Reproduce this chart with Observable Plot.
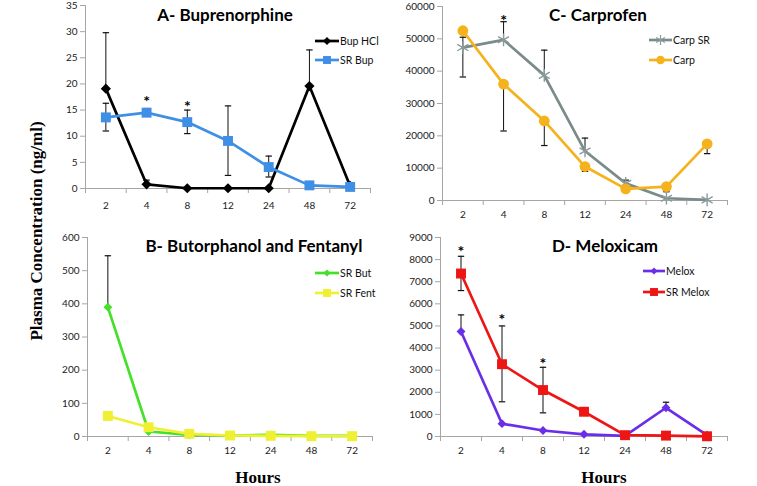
<!DOCTYPE html>
<html><head><meta charset="utf-8">
<script src="https://cdn.jsdelivr.net/npm/d3@7"></script>
<script src="https://cdn.jsdelivr.net/npm/@observablehq/plot@0.6"></script>
<style>
body{margin:0;background:#fff;}
#wrap{position:relative;width:757px;height:486px;overflow:hidden;font-family:Lato,"Open Sans",sans-serif;background:#fff;}
.panel{position:absolute;}
.panel svg{overflow:visible;background:none !important;}
.title{position:absolute;font-weight:bold;font-size:17px;transform:translate(-50%,-50%);white-space:nowrap;color:#000;font-family:Lato,sans-serif;}
.serif{position:absolute;font-family:"Liberation Serif","Times New Roman",serif;font-weight:bold;font-size:17px;white-space:nowrap;color:#000;}
.leg{position:absolute;font-size:10.5px;color:#111;display:flex;align-items:center;white-space:nowrap;}
.leg svg{display:block;margin-right:1px;}
</style></head>
<body><div id="wrap"></div>
<script>
// ---- data ----
const hours = ["2", "4", "8", "12", "24", "48", "72"];

// A - Buprenorphine (ng/ml)
const bupHCl      = [19.1, 0.8, 0.05, 0.05, 0.05, 19.6, 0.5];
const bupHClLo    = [19.1, 0.8, null, null, null, 19.6, null];
const bupHClHi    = [29.8, 1.6, null, null, null, 26.5, null];
const srBup       = [13.6, 14.5, 12.7, 9.1, 4.1, 0.6, 0.3];
const srBupLo     = [11.0, 13.8, 10.5, 2.5, 2.2, null, null];
const srBupHi     = [16.3, 15.3, 15.0, 15.8, 6.2, null, null];
const starsA      = [{i: 1, y: 17.4}, {i: 2, y: 16.3}];

// B - Butorphanol and Fentanyl
const srBut       = [390, 15, 5, 3, 5, 2, 2];
const srButLo     = [390, null, null, null, null, null, null];
const srButHi     = [545, null, null, null, null, null, null];
const srFent      = [62, 28, 8, 3, 2, 1, 1];

// C - Carprofen
const carpSR      = [47300, 49700, 38700, 15300, 5300, 700, 200];
const carpSRLo    = [38200, 49700, 38700, 15300, 5300, null, null];
const carpSRHi    = [50500, 55300, 46500, 19300, 6300, null, null];
const carp        = [52500, 36000, 24600, 10500, 3600, 4300, 17500];
const carpLo      = [null, 21500, 17000, 9000, null, 2700, 14500];
const carpHi      = [null, 36000, 24600, 10500, null, 4300, 17500];
const starsC      = [{i: 1, y: 56900}];

// D - Meloxicam
const melox       = [4750, 580, 270, 100, 30, 1300, 60];
const meloxLo     = [4750, null, null, null, null, 1300, null];
const meloxHi     = [5500, null, null, null, null, 1550, null];
const srMelox     = [7370, 3270, 2100, 1120, 60, 40, 10];
const srMeloxLo   = [6600, 1570, 1070, null, null, null, null];
const srMeloxHi   = [8150, 5000, 3130, null, null, null, null];
const starsD      = [{i: 0, y: 8520}, {i: 1, y: 5470}, {i: 2, y: 3480}];

// ---- helpers ----
const wrap = d3.select("#wrap");
const axisGray = "#a6a6a6";
const cap = {draw(ctx, size) { const r = Math.sqrt(size / Math.PI); ctx.moveTo(-r, 0); ctx.lineTo(r, 0); }};

function rows(name, vals, lo, hi) {
  return vals.map((v, i) => ({name, i, v, lo: lo ? lo[i] : null, hi: hi ? hi[i] : null}));
}

function panel(cfg) {
  const all = cfg.series.flatMap(s => rows(s.name, s.values, s.lo, s.hi).map(d => ({...d, s})));
  const errs = all.filter(d => d.lo != null && d.hi != null);
  const marks = [
    Plot.ruleY([0], {stroke: axisGray, strokeWidth: 1}),
    Plot.ruleX([-0.5], {stroke: axisGray, strokeWidth: 1}),
    Plot.axisY({ticks: d3.range(0, cfg.yMax + 1, cfg.yStep), tickSize: 5, tickPadding: 3,
      stroke: axisGray, fill: "#222", fontSize: 10, tickFormat: d3.format("d"), label: null}),
    Plot.axisX({ticks: d3.range(hours.length), tickSize: 0, tickPadding: cfg.xPad,
      tickFormat: i => hours[i], fill: "#222", fontSize: 10, label: null}),
    Plot.axisX({ticks: d3.range(hours.length + 1).map(i => i - 0.5), tickSize: 5,
      tickFormat: () => "", stroke: axisGray, label: null}),
    Plot.ruleX(errs, {x: "i", y1: "lo", y2: "hi", stroke: d => d.s.errColor || "#111", strokeWidth: 1}),
    Plot.dot(errs.filter(d => d.hi !== d.v), {x: "i", y: "hi", symbol: cap, r: 3.2, stroke: d => d.s.errColor || "#111", strokeWidth: 1.2}),
    Plot.dot(errs.filter(d => d.lo !== d.v), {x: "i", y: "lo", symbol: cap, r: 3.2, stroke: d => d.s.errColor || "#111", strokeWidth: 1.2})
  ];
  for (const s of cfg.series) {
    const data = rows(s.name, s.values);
    marks.push(Plot.line(data, {x: "i", y: "v", stroke: s.color, strokeWidth: 2.7}));
    if (s.symbol === "asterisk") {
      marks.push(Plot.dot(data, {x: "i", y: "v", symbol: "asterisk", r: s.r, stroke: s.markColor || s.color, strokeWidth: 1.4}));
    } else {
      marks.push(Plot.dot(data, {x: "i", y: "v", symbol: s.symbol, r: s.r, fill: s.color, stroke: "none"}));
    }
  }
  if (cfg.stars) marks.push(Plot.text(cfg.stars, {x: "i", y: "y", text: () => "*", fontSize: 16, fill: "#000", dy: 4, fontWeight: "bold"}));

  const chart = Plot.plot({
    width: cfg.width, height: cfg.height,
    marginLeft: cfg.mL, marginRight: cfg.mR, marginTop: cfg.mT, marginBottom: cfg.mB,
    style: {fontFamily: "Lato, sans-serif", background: "none", overflow: "visible"},
    x: {domain: [-0.5, hours.length - 0.5], label: null},
    y: {domain: [0, cfg.yMax], label: null},
    marks
  });
  const div = wrap.append("div").attr("class", "panel")
    .style("left", cfg.left + "px").style("top", cfg.top + "px");
  div.node().appendChild(chart);

  wrap.append("div").attr("class", "title")
    .style("left", cfg.titleX + "px").style("top", cfg.titleY + "px").text(cfg.title);

  cfg.series.forEach((s, k) => {
    const row = wrap.append("div").attr("class", "leg")
      .style("left", cfg.legX + "px").style("top", (cfg.legY + k * cfg.legDy - 7) + "px").style("height", "14px");
    const w = cfg.legW;
    const svg = row.append("svg").attr("width", w).attr("height", 14);
    svg.append("line").attr("x1", 0).attr("x2", w).attr("y1", 7).attr("y2", 7)
      .attr("stroke", s.color).attr("stroke-width", 2.7);
    const symMap = {square: d3.symbolSquare, diamond2: d3.symbolDiamond2, circle: d3.symbolCircle, asterisk: d3.symbolAsterisk};
    const size = Math.PI * Math.pow(s.r * 0.8, 2);
    const p = svg.append("path").attr("transform", `translate(${w / 2},7)`)
      .attr("d", d3.symbol(symMap[s.symbol], size)());
    if (s.symbol === "asterisk") p.attr("fill", "none").attr("stroke", s.markColor || s.color).attr("stroke-width", 1.2);
    else p.attr("fill", s.color);
    row.append("span").text(s.name);
  });
}

panel({
  left: 0, top: 0, width: 380, height: 215, mL: 85, mR: 10, mT: 5, mB: 27, xPad: 13,
  yMax: 35, yStep: 5, title: "A- Buprenorphine", titleX: 225, titleY: 14,
  legX: 315, legY: 41, legDy: 18.5, legW: 24,
  series: [
    {name: "Bup HCl", values: bupHCl, lo: bupHClLo, hi: bupHClHi, color: "#000000", symbol: "diamond2", r: 4.6},
    {name: "SR Bup", values: srBup, lo: srBupLo, hi: srBupHi, color: "#3f8fe6", symbol: "square", r: 5.6}
  ],
  stars: starsA
});

panel({
  left: 380, top: 0, width: 377, height: 215, mL: 62, mR: 30, mT: 6, mB: 15, xPad: 10,
  yMax: 60000, yStep: 10000, title: "C- Carprofen", titleX: 598, titleY: 14,
  legX: 649, legY: 40, legDy: 20, legW: 23,
  series: [
    {name: "Carp SR", values: carpSR, lo: carpSRLo, hi: carpSRHi, color: "#7b8a8a", markColor: "#8a9a9a", symbol: "asterisk", r: 6},
    {name: "Carp", values: carp, lo: carpLo, hi: carpHi, color: "#f6b21c", symbol: "circle", r: 5.4}
  ],
  stars: starsC
});

panel({
  left: 0, top: 215, width: 380, height: 271, mL: 87, mR: 8, mT: 22, mB: 50, xPad: 10,
  yMax: 600, yStep: 100, title: "B- Butorphanol and Fentanyl", titleX: 254, titleY: 245,
  legX: 315, legY: 272.5, legDy: 20, legW: 24,
  series: [
    {name: "SR But", values: srBut, lo: srButLo, hi: srButHi, color: "#45e02a", symbol: "diamond2", r: 4},
    {name: "SR Fent", values: srFent, lo: null, hi: null, color: "#f0f032", symbol: "square", r: 5.6}
  ]
});

panel({
  left: 380, top: 215, width: 377, height: 271, mL: 60, mR: 30, mT: 22, mB: 50, xPad: 10,
  yMax: 9000, yStep: 1000, title: "D- Meloxicam", titleX: 605, titleY: 245,
  legX: 643, legY: 270.5, legDy: 21, legW: 22,
  series: [
    {name: "Melox", values: melox, lo: meloxLo, hi: meloxHi, color: "#6a2ee8", symbol: "diamond2", r: 4},
    {name: "SR Melox", values: srMelox, lo: srMeloxLo, hi: srMeloxHi, color: "#ee1515", symbol: "square", r: 5.6}
  ],
  stars: starsD
});

// shared axis titles
wrap.append("div").attr("class", "serif")
  .style("left", "37px").style("top", "231px")
  .style("transform", "translate(-50%,-50%) rotate(-90deg)")
  .text("Plasma Concentration (ng/ml)");
wrap.append("div").attr("class", "serif")
  .style("left", "258px").style("top", "478px").style("transform", "translate(-50%,-50%)").text("Hours");
wrap.append("div").attr("class", "serif")
  .style("left", "604px").style("top", "478px").style("transform", "translate(-50%,-50%)").text("Hours");
</script>
</body></html>
